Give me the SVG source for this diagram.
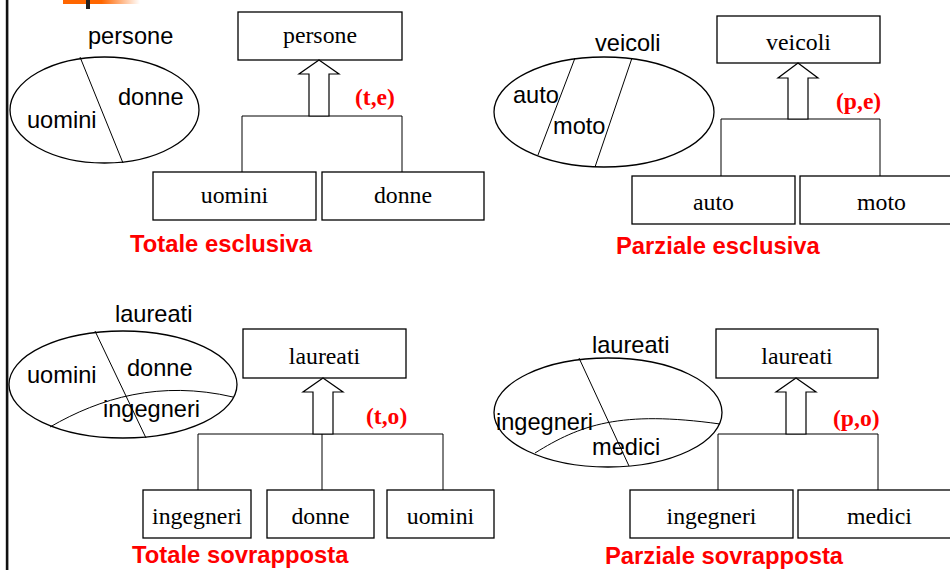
<svg xmlns="http://www.w3.org/2000/svg" width="950" height="570" viewBox="0 0 950 570">
<defs>
<linearGradient id="og" x1="0" y1="0" x2="1" y2="0">
<stop offset="0" stop-color="#FF6600"/>
<stop offset="0.5" stop-color="#FF6600"/>
<stop offset="1" stop-color="#FFFFFF"/>
</linearGradient>
</defs>
<style>
.box{fill:#fff;stroke:#000;stroke-width:1.3}
.ell{fill:none;stroke:#000;stroke-width:1.3}
.arr{fill:#fff;stroke:#000;stroke-width:1.2}
.con{fill:none;stroke:#000;stroke-width:1}
.st{font-family:"Liberation Serif","Times New Roman",serif;font-size:23.8px;fill:#000;text-anchor:middle}
.ss{font-family:"Liberation Sans",Arial,sans-serif;font-size:23.6px;fill:#000}
.rt{font-family:"Liberation Serif","Times New Roman",serif;font-size:23.6px;font-weight:bold;fill:#FF0000}
.title{font-family:"Liberation Sans",Arial,sans-serif;font-size:23.8px;font-weight:bold;fill:#FF0000}
</style>
<rect width="950" height="570" fill="#fff"/>
<g id="decor">
<rect x="5.8" y="0" width="2.6" height="570" fill="#111"/>
<rect x="63" y="0" width="77" height="4" fill="url(#og)"/>
<rect x="86" y="0" width="4" height="9" fill="#222"/>
</g>

<!-- Panel 1: Totale esclusiva -->
<g id="venn1">
<ellipse class="ell" cx="104.5" cy="110" rx="94.5" ry="53"/>
<line class="con" x1="80" y1="57" x2="123" y2="163"/>
<text class="ss" x="88" y="44">persone</text>
<text class="ss" x="118" y="105">donne</text>
<text class="ss" x="27" y="128">uomini</text>
</g>
<g id="n-persone"><rect class="box" x="238" y="12" width="164" height="48"/><text class="st" x="320" y="43">persone</text></g>
<g id="n-uomini1"><rect class="box" x="153" y="172" width="163" height="48"/><text class="st" x="234.5" y="203">uomini</text></g>
<g id="n-donne1"><rect class="box" x="322" y="172" width="162" height="48"/><text class="st" x="403" y="203">donne</text></g>
<text class="rt" x="355" y="105">(t,e)</text>
<text class="title" x="130" y="252">Totale esclusiva</text>

<!-- Panel 2: Parziale esclusiva -->
<g id="venn2">
<ellipse class="ell" cx="604" cy="112" rx="110" ry="55"/>
<line class="con" x1="575" y1="58" x2="538" y2="155"/>
<line class="con" x1="632" y1="58" x2="595" y2="167"/>
<text class="ss" x="595" y="51">veicoli</text>
<text class="ss" x="513" y="103">auto</text>
<text class="ss" x="553" y="134">moto</text>
</g>
<g id="n-veicoli"><rect class="box" x="717" y="16" width="163" height="47"/><text class="st" x="798.5" y="50">veicoli</text></g>
<g id="n-auto"><rect class="box" x="632" y="176" width="163" height="48"/><text class="st" x="713.5" y="210">auto</text></g>
<g id="n-moto"><rect class="box" x="800" y="176" width="163" height="48"/><text class="st" x="881.5" y="210">moto</text></g>
<text class="rt" x="836" y="109">(p,e)</text>
<text class="title" x="616" y="254">Parziale esclusiva</text>

<!-- Panel 3: Totale sovrapposta -->
<g id="venn3">
<ellipse class="ell" cx="123" cy="384.5" rx="114" ry="53.5"/>
<line class="con" x1="95" y1="331" x2="146" y2="438"/>
<path class="con" d="M50,427 C100,398 160,380 233,397"/>
<text class="ss" x="115" y="322">laureati</text>
<text class="ss" x="27" y="383">uomini</text>
<text class="ss" x="127" y="376">donne</text>
<text class="ss" x="103" y="417">ingegneri</text>
</g>
<g id="n-laureati3"><rect class="box" x="243" y="329" width="163" height="49"/><text class="st" x="324.5" y="364">laureati</text></g>
<g id="n-ingegneri3"><rect class="box" x="143" y="490" width="108" height="48"/><text class="st" x="197" y="524">ingegneri</text></g>
<g id="n-donne3"><rect class="box" x="267" y="490" width="107" height="48"/><text class="st" x="320.5" y="524">donne</text></g>
<g id="n-uomini3"><rect class="box" x="387" y="490" width="107" height="48"/><text class="st" x="440.5" y="524">uomini</text></g>
<text class="rt" x="366" y="424">(t,o)</text>
<text class="title" x="132" y="563">Totale sovrapposta</text>

<!-- Panel 4: Parziale sovrapposta -->
<g id="venn4">
<ellipse class="ell" cx="608" cy="412.5" rx="114" ry="54.5"/>
<line class="con" x1="579" y1="358" x2="629" y2="466"/>
<path class="con" d="M535,453 C580,425 620,410 720,424"/>
<text class="ss" x="592" y="353">laureati</text>
<text class="ss" x="496" y="430">ingegneri</text>
<text class="ss" x="592" y="455">medici</text>
</g>
<g id="n-laureati4"><rect class="box" x="716" y="329" width="162" height="49"/><text class="st" x="797" y="364">laureati</text></g>
<g id="n-ingegneri4"><rect class="box" x="630" y="490" width="163" height="48"/><text class="st" x="711.5" y="524">ingegneri</text></g>
<g id="n-medici"><rect class="box" x="798" y="490" width="163" height="48"/><text class="st" x="879.5" y="524">medici</text></g>
<text class="rt" x="833" y="426">(p,o)</text>
<text class="title" x="605" y="564">Parziale sovrapposta</text>

<g id="connectors">
<path class="con" d="M242,172 V116 H402 V172"/>
<polygon class="arr" points="319,60 339,74 329,74 329,116 309,116 309,74 299,74"/>
<path class="con" d="M721,176 V119 H880 V176"/>
<polygon class="arr" points="798,63 818,78 808,78 808,119 788,119 788,78 778,78"/>
<path class="con" d="M198,490 V434 H443 V490 M322,434 V490"/>
<polygon class="arr" points="323,378 343,392 333,392 333,434 313,434 313,392 303,392"/>
<path class="con" d="M718,490 V434 H878 V490"/>
<polygon class="arr" points="796,378 816,392 806,392 806,434 786,434 786,392 776,392"/>
</g>
</svg>
